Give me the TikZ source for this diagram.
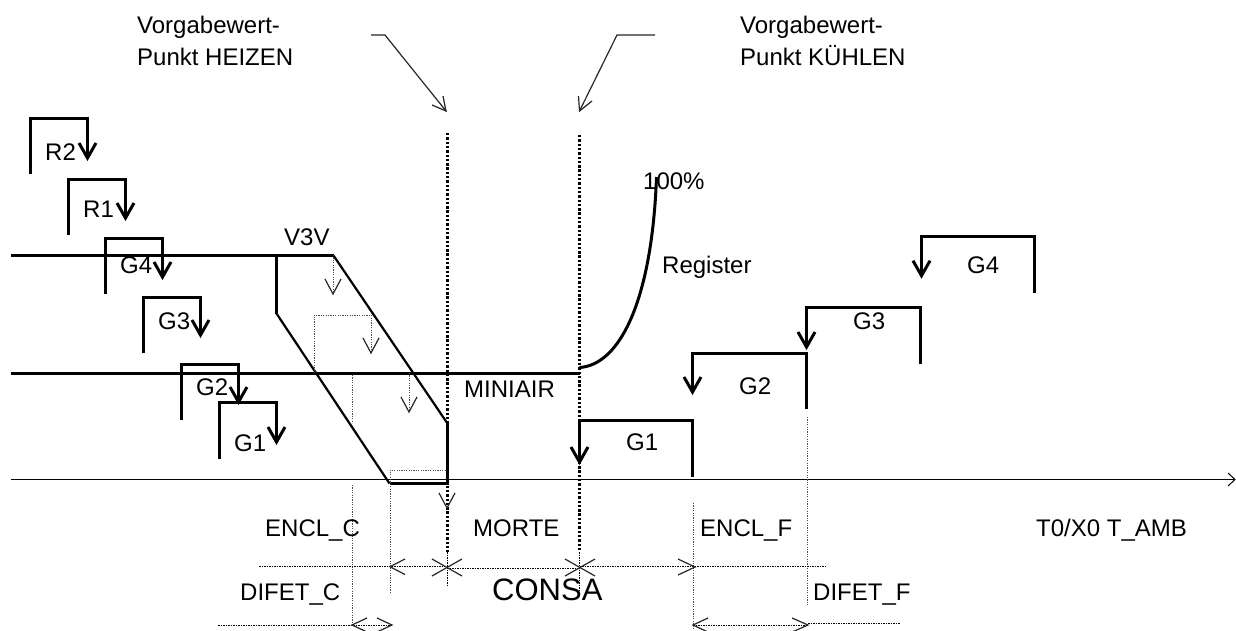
\documentclass[tikz,border=0pt]{standalone}
\usepackage{fontspec}
\setmainfont{Liberation Sans}
\begin{document}
\begin{tikzpicture}[x=1pt,y=-1pt,
  lbl/.style={anchor=base west,inner sep=0pt,font=\fontsize{24}{32}\selectfont,align=left},
  big/.style={anchor=base west,inner sep=0pt,font=\fontsize{31}{36}\selectfont},
  heavy/.style={draw=black,line width=3pt,line join=miter},
  hair/.style={draw=black,line width=1pt},
  thin/.style={draw=black!85,line width=1.2pt},
  tiny/.style={draw=black!70,line width=1pt,dash pattern=on 1.2pt off 1.2pt},
  fine/.style={draw=black,line width=1pt,dash pattern=on 1.5pt off 1pt},
  thickdot/.style={draw=black,line width=3pt,dash pattern=on 2.4pt off 1.9pt}]
\useasboundingbox[fill=white] (0,0) rectangle (1236,630);
% axis
\draw[hair] (11,479.5) -- (1235,479.5);
\draw[hair] (1228,473) -- (1235,479.5) -- (1228,486);
% thick horizontal lines and V3V polygon
\draw[heavy] (11,255.5) -- (333.5,255.5);
\draw[heavy] (276.5,255.5) -- (276.5,313.5);
\draw[heavy,line width=2.2pt] (333.5,255.5) -- (447.5,423.5);
\draw[heavy,line width=2.2pt] (276.5,313.5) -- (389.5,483.5);
\draw[heavy] (447.5,423.5) -- (447.5,483.5) -- (389.5,483.5);
\draw[heavy] (11,373.5) -- (579.5,373.5);
% register curve
\draw[heavy] (579.5,367.5) .. controls (620,365) and (652,300) .. (656.5,177);
% step symbols: foot x / top y / head x / tip y / foot y
\foreach \fx/\ty/\hx/\tipy/\fy in {30.5/118.5/87.5/158/174,68.5/179.5/125.5/218/235,105.5/238.5/162.5/277/294,143.5/297.5/200.5/335/353,181.5/364.5/238.5/402/420,219.5/402.5/276.5/442/459,
  692.5/420.5/579.5/462/476.5,806.5/353.5/692.5/392/409,920.5/307.5/806.5/347/364,1034.5/236.5/921.5/275.7/292.7}{
  \draw[heavy] (\fx,\fy) -- (\fx,\ty) -- (\hx,\ty) -- (\hx,\tipy);
  \draw[heavy] (\hx-8.5,\tipy-15) -- (\hx,\tipy) -- (\hx+8.5,\tipy-15);
}
% set point markers
\draw[thickdot] (447.5,133) -- (447.5,552);
\draw[thickdot] (579.5,135) -- (579.5,552);
\draw[fine] (447.5,552) -- (447.5,585);
\draw[fine] (579.5,552) -- (579.5,590);
% leaders
\draw[thin] (371,35) -- (385,35) -- (446,111);
\draw[thin] (432,105) -- (446,111) -- (443,96);
\draw[thin] (655,35) -- (617,35) -- (579.5,111);
\draw[thin] (578.5,96) -- (579.5,111) -- (592,101);
% small dotted arrows in the V3V band
\draw[tiny] (333,255) -- (333,294);
\draw[thin] (325,279) -- (333,294) -- (341,279);
\draw[tiny] (314,373) -- (314,315) -- (371,315) -- (371,353);
\draw[thin] (363,338) -- (371,353) -- (379,338);
\draw[tiny] (409,373) -- (409,412);
\draw[thin] (401,397) -- (409,412) -- (417,397);
\draw[thin] (439,493) -- (447,508) -- (455,493);
\draw[tiny] (390,593) -- (390,470) -- (445,470);
\draw[tiny] (352,375) -- (352,423);
\draw[tiny] (352,485) -- (352,625);
\draw[tiny] (693,503) -- (693,630);
\draw[tiny] (807,417) -- (807,605);
% dimension lines
\draw[fine] (259,566.7) -- (447,566.7);
\draw[fine] (447,568) -- (579.5,568);
\draw[fine] (579.5,566.7) -- (826,566.7);
\draw[thin] (405,559) -- (390,566.7) -- (405,574.5);
\draw[thin] (432,559) -- (462,576);
\draw[thin] (432,576) -- (462,559);
\draw[thin] (565,576) -- (595,559);
\draw[thin] (565,559) -- (595,576);
\draw[thin] (678,559) -- (695,567) -- (678,575);
\draw[fine] (218,625) -- (392,625);
\draw[thin] (367,618) -- (352,625) -- (367,632);
\draw[thin] (377,618) -- (392,625) -- (377,632);
\draw[fine] (693,625) -- (808,625);
\draw[fine] (808,623) -- (900,623);
\draw[thin] (708,618) -- (693,625) -- (708,632);
\draw[thin] (792,618) -- (808,625) -- (792,632);
% labels
\node[lbl] (vh) at (137,65) {Vorgabewert-\\Punkt HEIZEN};
\node[lbl] (vk) at (740,65) {Vorgabewert-\\Punkt KÜHLEN};
\node[lbl] (r2) at (45,160) {R2};
\node[lbl] (r1) at (83,217) {R1};
\node[lbl] (g4a) at (120,273) {G4};
\node[lbl] (g3a) at (158,329) {G3};
\node[lbl] (g2a) at (196,395) {G2};
\node[lbl] (g1a) at (234,451) {G1};
\node[lbl] (v3v) at (284,245) {V3V};
\node[lbl] (min) at (464,397) {MINIAIR};
\node[lbl] (pct) at (643,189) {100\%};
\node[lbl] (reg) at (662,273) {Register};
\node[lbl] (g4b) at (967,273) {G4};
\node[lbl] (g3b) at (853,329) {G3};
\node[lbl] (g2b) at (739,394) {G2};
\node[lbl] (g1b) at (626,450) {G1};
\node[lbl] (ec) at (265,536) {ENCL\_C};
\node[lbl] (mo) at (473,536) {MORTE};
\node[lbl] (ef) at (700,536) {ENCL\_F};
\node[lbl] (ta) at (1036,536) {T0/X0 T\_AMB};
\node[lbl] (dc) at (240,600) {DIFET\_C};
\node[lbl] (df) at (813,600) {DIFET\_F};
\node[big] (co) at (492,600) {CONSA};
\end{tikzpicture}
\end{document}
